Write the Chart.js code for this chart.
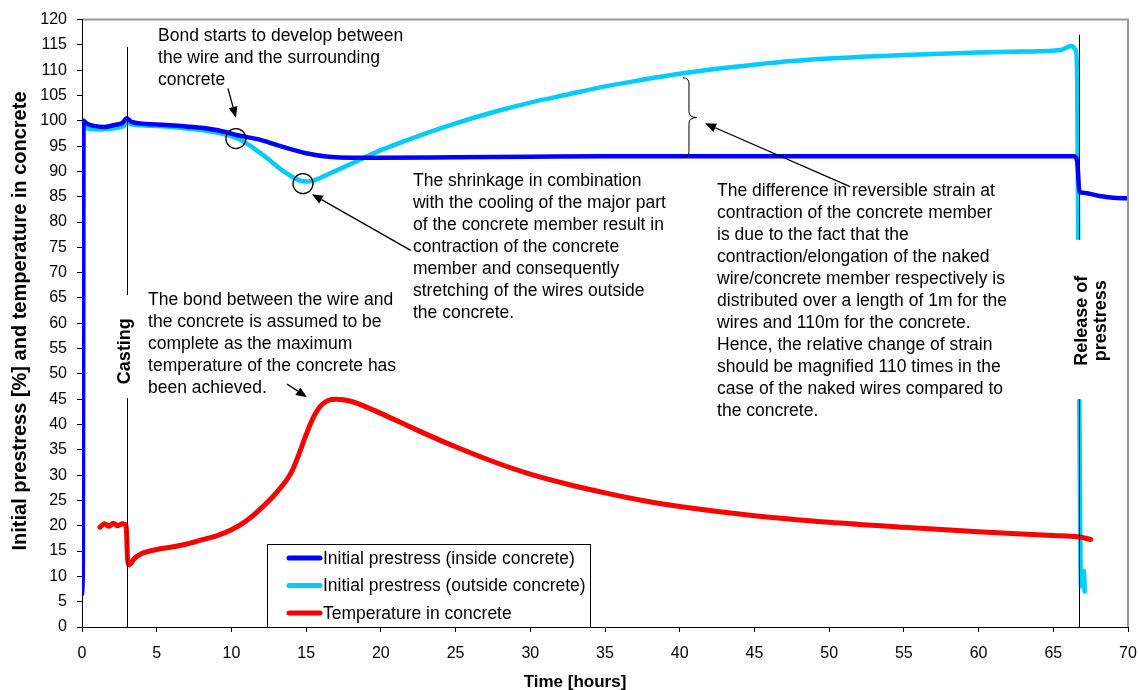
<!DOCTYPE html>
<html>
<head>
<meta charset="utf-8">
<title>Initial prestress and temperature in concrete</title>
<script src="https://cdn.jsdelivr.net/npm/chart.js@4.4.1/dist/chart.umd.min.js"></script>
<style>
  html, body { margin: 0; padding: 0; background: #fff; }
  #chart { display: block; }
</style>
</head>
<body>
<canvas id="chart" width="1139" height="690"></canvas>
<script>
const FONT = 'Arial, "Liberation Sans", Helvetica, sans-serif';

// Initial prestress (inside concrete) [%]
const insideHours  = [0, 0.03, 0.06, 0.1, 0.3, 0.8, 1.5, 2.2, 2.7, 3.0, 3.3, 5, 7, 9, 10.5, 12, 13.5, 15, 16.5, 18, 20, 25, 30, 35, 40, 45, 50, 55, 60, 65, 66.4, 66.6, 66.75, 67, 68, 69, 70];
const insideValues = [6.5, 8, 14.5, 100, 99.5, 99, 98.8, 99.2, 99.6, 100.5, 99.8, 99.3, 98.9, 98.2, 97.1, 96.2, 94.8, 93.6, 92.9, 92.7, 92.7, 92.8, 92.9, 93, 93, 93, 93, 93, 93, 93, 93, 92, 86, 85.8, 85.2, 84.8, 84.7];

// Initial prestress (outside concrete) [%]
const outsideHours  = [0, 0.05, 0.1, 0.3, 1, 2, 2.8, 3.0, 3.3, 5, 7, 9, 10.5, 12, 13.5, 14.5, 15, 15.5, 16.5, 18, 20, 22.5, 25, 27.5, 30, 32.5, 35, 37.5, 40, 42.5, 45, 47.5, 50, 55, 60, 63, 65.5, 66.2, 66.5, 66.6, 66.7, 66.8, 66.85, 67, 67.05, 67.1];
const outsideValues = [15, 40, 99.8, 98.6, 98.3, 98.5, 99, 99.9, 99.3, 99, 98.5, 97.7, 96.4, 93.5, 90, 88.3, 88, 88.2, 89.5, 91.5, 94.2, 97, 99.5, 101.7, 103.6, 105.2, 106.8, 108.1, 109.3, 110.3, 111.1, 111.8, 112.3, 113, 113.5, 113.7, 114, 114.8, 114, 108, 60, 20, 8, 10, 11, 7];

// Temperature in concrete [deg C]
const tempHours  = [1.2, 1.5, 1.8, 2.1, 2.4, 2.7, 2.95, 3.05, 3.15, 3.5, 4, 5, 6, 7, 8, 9, 10, 11, 12, 13, 14, 14.5, 15, 15.5, 16, 16.5, 17, 18, 19, 20, 22.5, 25, 27.5, 30, 32.5, 35, 37.5, 40, 45, 50, 55, 60, 65, 66.7, 67.5];
const tempValues = [19.7, 20.4, 19.9, 20.5, 20.0, 20.4, 20.0, 13.5, 12.3, 13.5, 14.5, 15.3, 15.8, 16.4, 17.2, 18, 19.2, 21, 23.5, 26.5, 30.5, 34, 38, 41.5, 43.8, 44.8, 45, 44.6, 43.5, 42.2, 38.8, 35.6, 32.7, 30.2, 28.2, 26.5, 25, 23.8, 22, 20.7, 19.7, 18.8, 18.1, 17.8, 17.3];

// Axis ticks
const xTicks = { min: 0, max: 70, step: 5 };
const yTicks = { min: 0, max: 120, step: 5 };

const seriesNames = [
    'Initial prestress (inside concrete)',
    'Initial prestress (outside concrete)',
    'Temperature in concrete'
];
const seriesColors = ['#0000ff', '#00ccff', '#ff0000'];

// Event markers (hours)
const castingHour = 3;
const releaseHour = 66.7;

function toPoints(xs, ys) {
    return xs.map(function (x, i) { return { x: x, y: ys[i] }; });
}

// Annotation text blocks
const notes = [
    { at: [5.09, 116.8], lines: ['Bond starts to develop between', 'the wire and the surrounding', 'concrete'] },
    { at: [22.15, 88.0], lines: ['The shrinkage in combination', 'with the cooling of the major part', 'of the concrete member result in', 'contraction of the concrete', 'member and consequently', 'stretching of the wires outside', 'the concrete.'] },
    { at: [4.42, 64.5], lines: ['The bond between the wire and', 'the concrete is assumed to be', 'complete as the maximum', 'temperature of the concrete has', 'been achieved.'] },
    { at: [42.5, 86.2], lines: ['The difference in reversible strain at', 'contraction of the concrete member', 'is due to the fact that the', 'contraction/elongation of the naked', 'wire/concrete member respectively is', 'distributed over a length of 1m for the', 'wires and 110m for the concrete.', 'Hence, the relative change of strain', 'should be magnified 110 times in the', 'case of the naked wires compared to', 'the concrete.'] }
];

// Arrows: [tailX, tailY, headX, headY] in hours / %
const arrows = [
    [9.77, 106.4, 10.3, 100.6],
    [22.0, 74.4, 15.39, 85.5],
    [13.72, 48.0, 15.06, 45.4],
    [51.4, 87.0, 41.7, 99.5]
];

const circles = [[10.3, 96.5], [14.79, 87.6]];

function drawArrow(ctx, x1, y1, x2, y2) {
    const ang = Math.atan2(y2 - y1, x2 - x1);
    const len = 11, half = 4.5;
    const bx = x2 - len * Math.cos(ang), by = y2 - len * Math.sin(ang);
    ctx.beginPath();
    ctx.moveTo(x1, y1);
    ctx.lineTo(bx, by);
    ctx.stroke();
    ctx.beginPath();
    ctx.moveTo(x2, y2);
    ctx.lineTo(bx - half * Math.sin(ang), by + half * Math.cos(ang));
    ctx.lineTo(bx + half * Math.sin(ang), by - half * Math.cos(ang));
    ctx.closePath();
    ctx.fill();
}

const annotationPlugin = {
    id: 'annotations',
    afterDatasetsDraw: function (chart) {
        const ctx = chart.ctx;
        const area = chart.chartArea;
        const px = function (v) { return chart.scales.x.getPixelForValue(v); };
        const py = function (v) { return chart.scales.y.getPixelForValue(v); };

        ctx.save();

        // grey plot border, top and right
        ctx.strokeStyle = '#999';
        ctx.lineWidth = 2;
        ctx.beginPath();
        ctx.moveTo(area.left + 1, area.top);
        ctx.lineTo(area.right, area.top);
        ctx.lineTo(area.right, area.bottom);
        ctx.stroke();

        // casting and release lines
        ctx.strokeStyle = '#000';
        ctx.lineWidth = 1;
        ctx.beginPath();
        ctx.moveTo(Math.round(px(castingHour)) + 0.5, py(114.6));
        ctx.lineTo(Math.round(px(castingHour)) + 0.5, area.bottom);
        ctx.moveTo(Math.round(px(releaseHour)) + 0.5, py(117));
        ctx.lineTo(Math.round(px(releaseHour)) + 0.5, area.bottom);
        ctx.stroke();

        // rotated labels on white boxes
        ctx.fillStyle = '#fff';
        ctx.fillRect(px(castingHour) - 13, py(65.6), 28, py(45.2) - py(65.6));
        ctx.fillRect(px(releaseHour) - 4, py(76.5), 36, py(45) - py(76.5));

        ctx.fillStyle = '#000';
        ctx.font = 'bold 18px ' + FONT;
        ctx.textAlign = 'center';
        ctx.textBaseline = 'middle';
        ctx.save();
        ctx.translate(px(2.88), py(54.5));
        ctx.rotate(-Math.PI / 2);
        ctx.fillText('Casting', 0, 0);
        ctx.restore();
        ctx.save();
        ctx.translate(px(67.55), py(60.5));
        ctx.rotate(-Math.PI / 2);
        ctx.fillText('Release of', 0, -9);
        ctx.fillText('prestress', 0, 10);
        ctx.restore();

        // text notes
        ctx.font = '17.5px ' + FONT;
        ctx.textAlign = 'left';
        notes.forEach(function (n) {
            const x0 = px(n.at[0]);
            const y0 = py(n.at[1]);
            n.lines.forEach(function (line, i) {
                ctx.fillText(line, x0, y0 + i * 22);
            });
        });

        // arrows and circles
        ctx.strokeStyle = '#000';
        ctx.lineWidth = 1.3;
        arrows.forEach(function (a) {
            drawArrow(ctx, px(a[0]), py(a[1]), px(a[2]), py(a[3]));
        });
        circles.forEach(function (c) {
            ctx.beginPath();
            ctx.arc(px(c[0]), py(c[1]), 10, 0, Math.PI * 2);
            ctx.stroke();
        });

        // brace between the two prestress curves at 40 h
        const bx = px(40.62), top = py(108.5), bot = py(92.8), mid = (top + bot) / 2;
        ctx.lineWidth = 1;
        ctx.beginPath();
        ctx.moveTo(bx - 6, top);
        ctx.quadraticCurveTo(bx, top, bx, top + 6);
        ctx.lineTo(bx, mid - 6);
        ctx.quadraticCurveTo(bx, mid, bx + 8, mid);
        ctx.quadraticCurveTo(bx, mid, bx, mid + 6);
        ctx.lineTo(bx, bot - 6);
        ctx.quadraticCurveTo(bx, bot, bx - 6, bot);
        ctx.stroke();

        // legend box
        const lx = area.left + 185, ly = area.bottom - 83, lw = 323, lh = 83;
        ctx.fillStyle = '#fff';
        ctx.fillRect(lx, ly, lw, lh);
        ctx.strokeStyle = '#000';
        ctx.strokeRect(lx + 0.5, ly + 0.5, lw, lh);
        ctx.font = '17.5px ' + FONT;
        seriesNames.forEach(function (name, i) {
            const ry = ly + 14 + i * 27.5;
            ctx.strokeStyle = seriesColors[i];
            ctx.lineWidth = 5;
            ctx.lineCap = 'round';
            ctx.beginPath();
            ctx.moveTo(lx + 22, ry);
            ctx.lineTo(lx + 53, ry);
            ctx.stroke();
            ctx.fillStyle = '#000';
            ctx.fillText(name, lx + 56, ry + 1);
        });

        // axis titles
        ctx.textAlign = 'center';
        ctx.font = 'bold 17px ' + FONT;
        ctx.fillText('Time [hours]', 575, 682);
        ctx.font = 'bold 20px ' + FONT;
        ctx.save();
        ctx.translate(20, 321);
        ctx.rotate(-Math.PI / 2);
        ctx.fillText('Initial prestress [%] and temperature in concrete', 0, 0);
        ctx.restore();

        ctx.restore();
    }
};

const ctx = document.getElementById('chart');

new Chart(ctx, {
    type: 'line',
    data: {
        datasets: [
            {
                label: seriesNames[0],
                data: toPoints(insideHours, insideValues),
                borderColor: seriesColors[0],
                borderWidth: 4.5,
                order: 1
            },
            {
                label: seriesNames[1],
                data: toPoints(outsideHours, outsideValues),
                borderColor: seriesColors[1],
                borderWidth: 4.5,
                order: 2
            },
            {
                label: seriesNames[2],
                data: toPoints(tempHours, tempValues),
                borderColor: seriesColors[2],
                borderWidth: 5,
                order: 0
            }
        ]
    },
    options: {
        responsive: false,
        animation: false,
        devicePixelRatio: 1,
        layout: { padding: { left: 0, top: 19, right: 11, bottom: 0 } },
        elements: {
            point: { radius: 0 },
            line: { cubicInterpolationMode: 'monotone', borderCapStyle: 'round', borderJoinStyle: 'round' }
        },
        plugins: {
            legend: { display: false },
            tooltip: { enabled: false }
        },
        scales: {
            x: {
                type: 'linear',
                min: xTicks.min,
                max: xTicks.max,
                afterFit: function (scale) {
                    scale.height = 63;
                    scale.paddingLeft = 0;
                    scale.paddingRight = 0;
                },
                ticks: {
                    stepSize: xTicks.step,
                    color: '#000',
                    font: { family: FONT, size: 16 },
                    padding: 12,
                    maxRotation: 0
                },
                grid: { drawOnChartArea: false, color: '#000', tickLength: 5 },
                border: { color: '#000', width: 1 }
            },
            y: {
                min: yTicks.min,
                max: yTicks.max,
                afterFit: function (scale) { scale.width = 82; },
                ticks: {
                    stepSize: yTicks.step,
                    color: '#000',
                    font: { family: FONT, size: 16 },
                    padding: 10
                },
                grid: { drawOnChartArea: false, color: '#000', tickLength: 5 },
                border: { color: '#000', width: 1 }
            }
        }
    },
    plugins: [annotationPlugin]
});
</script>
</body>
</html>
